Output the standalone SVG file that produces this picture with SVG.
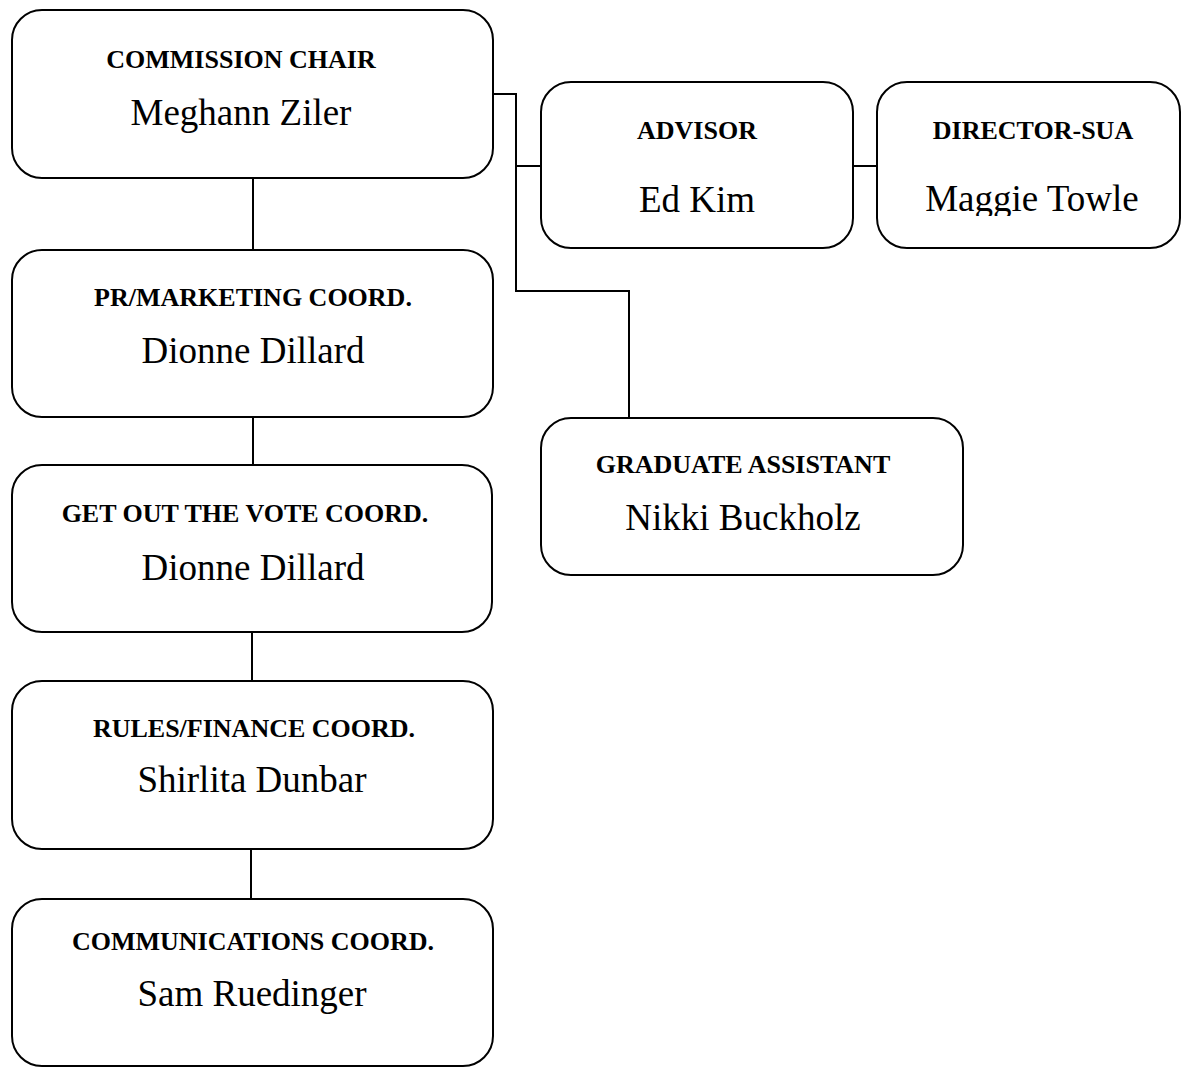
<svg xmlns="http://www.w3.org/2000/svg" width="1181" height="1067" viewBox="0 0 1181 1067">
<style>
.box{fill:#fff;stroke:#000;stroke-width:2}
.conn{fill:none;stroke:#000;stroke-width:2}
.t{font-family:"Liberation Serif","Times New Roman",serif;font-weight:bold;font-size:26px;text-anchor:middle;fill:#000}
.n{font-family:"Liberation Serif","Times New Roman",serif;font-size:37px;text-anchor:middle;fill:#000}
</style>
<defs>
<clipPath id="dirclip"><rect x="880" y="150" width="298" height="66"/></clipPath>
</defs>
<rect width="1181" height="1067" fill="#fff"/>
<g id="connectors">
<path class="conn" d="M253 178V250"/>
<path class="conn" d="M253 417V465"/>
<path class="conn" d="M252 632V681"/>
<path class="conn" d="M251 849V899"/>
<path class="conn" d="M493 94H516V291H629V418"/>
<path class="conn" d="M516 166H541"/>
<path class="conn" d="M853 166H877"/>
</g>
<g id="chair">
<rect class="box" x="12" y="10" width="481" height="168" rx="30"/>
<text class="t" x="241" y="68">COMMISSION CHAIR</text>
<text class="n" x="241" y="125">Meghann Ziler</text>
</g>
<g id="pr">
<rect class="box" x="12" y="250" width="481" height="167" rx="30"/>
<text class="t" x="253" y="306">PR/MARKETING COORD.</text>
<text class="n" x="253" y="363">Dionne Dillard</text>
</g>
<g id="gotv">
<rect class="box" x="12" y="465" width="480" height="167" rx="30"/>
<text class="t" x="245" y="522">GET OUT THE VOTE COORD.</text>
<text class="n" x="253" y="580">Dionne Dillard</text>
</g>
<g id="rules">
<rect class="box" x="12" y="681" width="481" height="168" rx="30"/>
<text class="t" x="254" y="737">RULES/FINANCE COORD.</text>
<text class="n" x="252" y="792">Shirlita Dunbar</text>
</g>
<g id="comms">
<rect class="box" x="12" y="899" width="481" height="167" rx="30"/>
<text class="t" x="253" y="950">COMMUNICATIONS COORD.</text>
<text class="n" x="252" y="1006">Sam Ruedinger</text>
</g>
<g id="advisor">
<rect class="box" x="541" y="82" width="312" height="166" rx="30"/>
<text class="t" x="697" y="139">ADVISOR</text>
<text class="n" x="697" y="212">Ed Kim</text>
</g>
<g id="director">
<rect class="box" x="877" y="82" width="303" height="166" rx="30"/>
<text class="t" x="1033" y="139">DIRECTOR-SUA</text>
<text class="n" x="1032" y="211" clip-path="url(#dirclip)">Maggie Towle</text>
</g>
<g id="grad">
<rect class="box" x="541" y="418" width="422" height="157" rx="30"/>
<text class="t" x="743" y="473">GRADUATE ASSISTANT</text>
<text class="n" x="743" y="530">Nikki Buckholz</text>
</g>
</svg>
